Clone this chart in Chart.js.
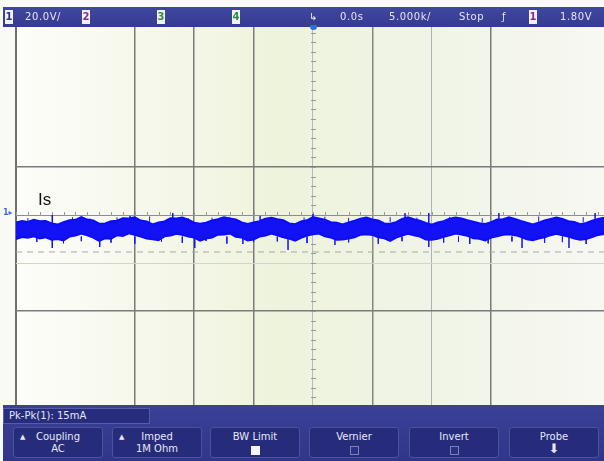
<!DOCTYPE html>
<html>
<head>
    <title>Scope capture - Is</title>
    <script src="https://cdn.jsdelivr.net/npm/chart.js@4.4.1/dist/chart.umd.min.js"></script>
    <style>
        body {
            margin: 0;
            padding: 0;
            background-color: #fafaf4;
            font-family: "DejaVu Sans", Arial, sans-serif;
        }
        #wrap {
            position: relative;
            width: 604px;
            height: 461px;
            overflow: hidden;
        }
        #scope {
            position: absolute;
            left: 0;
            top: 0;
        }
        .topbar {
            position: absolute;
            left: 3px;
            top: 7px;
            width: 601px;
            height: 20px;
            background: linear-gradient(#4047a0, #353b90);
            color: #e4e6f7;
            font-size: 10px;
            letter-spacing: 0.6px;
        }
        .topbar span {
            position: absolute;
            top: 4px;
            line-height: 12px;
        }
        .topbar .chip {
            background: #f2f2f6;
            width: 8px;
            text-align: center;
            font-weight: bold;
            letter-spacing: 0;
            top: 3px;
            line-height: 14px;
        }
        .bottombar {
            position: absolute;
            left: 3px;
            top: 405px;
            width: 601px;
            height: 56px;
            background: linear-gradient(#3a4196, #30378a);
            color: #e6e8f8;
            font-size: 10px;
        }
        .measure {
            position: absolute;
            left: 0;
            top: 3px;
            width: 147px;
            height: 16px;
            background: #272d7c;
            border: 1px solid #565da8;
            line-height: 14px;
            padding-left: 5px;
            box-sizing: border-box;
        }
        .btn {
            position: absolute;
            top: 22px;
            width: 90px;
            height: 31px;
            background: #272c7a;
            border: 1px solid #4a519e;
            border-radius: 3px;
            box-sizing: border-box;
            text-align: center;
            line-height: 12px;
            padding-top: 3px;
        }
        .btn .up {
            position: absolute;
            left: 6px;
            top: 3px;
            font-size: 7px;
        }
        .box {
            display: inline-block;
            width: 7px;
            height: 7px;
            margin-top: 3px;
            border: 1px solid #7c82b8;
            background: #2b3080;
        }
        .box.on {
            background: #f4f4fa;
            border-color: #f4f4fa;
        }
        .label-is {
            position: absolute;
            left: 38px;
            top: 190px;
            font-family: Arial, "Liberation Sans", sans-serif;
            font-size: 17px;
            color: #111;
        }
        .gnd {
            position: absolute;
            left: 3px;
            top: 208px;
            font-size: 8px;
            font-weight: bold;
            color: #3f6fc8;
        }
        .trig {
            position: absolute;
            left: 310px;
            top: 25px;
            width: 7px;
            height: 5px;
            border-radius: 0 0 4px 4px;
            background: #2d6fd2;
        }
    </style>
</head>
<body>
<div id="wrap">
    <canvas id="scope" width="604" height="461"></canvas>

    <div class="topbar">
        <span class="chip" style="left:2px;color:#2d3388;">1</span>
        <span style="left:22px;">20.0V/</span>
        <span class="chip" style="left:79px;color:#8b2a9a;">2</span>
        <span class="chip" style="left:154px;color:#2c8c3c;">3</span>
        <span class="chip" style="left:229px;color:#2c8c3c;">4</span>
        <span style="left:306px;color:#f0f0f0;">&#8627;</span>
        <span style="left:337px;">0.0s</span>
        <span style="left:386px;">5.000k/</span>
        <span style="left:456px;">Stop</span>
        <span style="left:499px;">&#402;</span>
        <span class="chip" style="left:526px;color:#8b2a9a;">1</span>
        <span style="left:557px;">1.80V</span>
    </div>

    <div class="trig"></div>
    <div class="gnd">1&#9656;</div>
    <div class="label-is">Is</div>

    <div class="bottombar">
        <div class="measure">Pk-Pk(1): 15mA</div>
        <div class="btn" style="left:10px;"><span class="up">&#9650;</span>Coupling<br>AC</div>
        <div class="btn" style="left:109px;"><span class="up">&#9650;</span>Imped<br>1M Ohm</div>
        <div class="btn" style="left:207px;">BW Limit<br><span class="box on"></span></div>
        <div class="btn" style="left:306px;">Vernier<br><span class="box"></span></div>
        <div class="btn" style="left:406px;">Invert<br><span class="box"></span></div>
        <div class="btn" style="left:506px;">Probe<br><span style="font-size:13px;">&#11015;</span></div>
    </div>
</div>

<script>
    // Channel 1 current trace, 20 mA/div, time axis in divisions
    const sampleStep = 0.1;
    const traceTop = [
        -3.1, -2.5, -2.9, -2.0, -2.6, -2.5, -3.5, -4.0, -3.0, -2.2,
        -2.0, -0.9, -1.9, -2.3, -3.6, -3.5, -2.6, -2.4, -1.4, -1.5,
        -1.0, -2.3, -2.7, -3.9, -3.1, -2.7, -1.4, -1.5, -1.1, -1.9,
        -3.2, -3.6, -3.2, -2.3, -1.8, -1.0, -1.5, -1.9, -3.1, -3.7,
        -3.1, -2.6, -1.5, -1.2, -1.8, -2.2, -3.5, -3.8, -2.7, -2.2,
        -0.9, -1.4, -2.0, -3.0, -3.2, -3.9, -3.1, -2.4, -1.6, -1.1,
        -1.9, -2.3, -3.5, -3.6, -3.0, -1.6, -1.0, -1.8, -2.4, -3.3,
        -4.0, -3.1, -2.6, -1.5, -1.0, -1.4, -2.2, -2.8, -3.4, -3.7,
        -3.0, -1.9, -1.8, -1.0, -1.7, -2.5, -3.2, -3.9, -3.2, -2.3,
        -1.7, -1.1, -1.6, -2.6, -2.9, -3.8, -3.3, -2.4, -1.7, -1.1,
        -1.3
    ];
    const traceBottom = [
        -10.0, -9.2, -9.5, -8.9, -9.8, -9.3, -10.3, -10.0, -10.6, -9.0,
        -8.6, -7.7, -8.5, -9.4, -10.8, -9.7, -9.9, -8.4, -8.7, -7.6,
        -8.2, -9.0, -9.8, -10.1, -10.5, -8.9, -8.6, -7.8, -8.2, -9.0,
        -9.4, -10.7, -9.8, -9.4, -8.2, -8.1, -7.7, -9.1, -9.4, -10.6,
        -10.2, -9.0, -8.6, -7.7, -8.5, -9.3, -9.8, -10.7, -9.5, -8.6,
        -8.0, -7.7, -8.9, -9.4, -10.3, -10.2, -9.8, -9.3, -8.2, -8.0,
        -8.3, -9.3, -9.7, -10.8, -9.4, -8.6, -7.8, -8.4, -9.0, -10.2,
        -10.3, -9.9, -9.1, -8.5, -7.7, -8.1, -8.7, -9.7, -9.9, -10.6,
        -9.4, -8.9, -8.2, -8.0, -8.4, -9.1, -10.1, -10.5, -9.8, -9.3,
        -8.4, -7.8, -8.5, -9.0, -9.8, -10.3, -10.0, -9.2, -8.3, -7.9,
        -8.0
    ];

    // Noise spikes reaching well out of the band
    const spikeX    = [0.61, 1.41, 3.01, 3.82, 4.58, 5.37, 6.95, 7.64, 8.52, 9.31,
                       0.61, 1.92, 2.64, 4.11, 5.00, 6.55, 6.95, 8.13, 9.75];
    const spikeFrom = [-7, -7, -7, -7, -7, -7, -7, -7, -7, -7,
                       -4, -4, -4, -4, -4, -4, -4, -4, -4];
    const spikeTo   = [-13.8, -13.3, -13.8, -12.1, -14.6, -12.5, -13.3, -12.1, -13.8, -13.8,
                       0.0, -0.4, 0.8, -0.4, 0.4, 0.8, 0.8, 0.8, 0.8];

    // Short hairs on the band edges
    const hairX    = [0.20, 0.95, 1.25, 1.70, 2.25, 2.90, 3.30, 3.60, 4.35, 4.85, 5.20,
                      5.60, 5.95, 6.30, 6.75, 7.30, 7.85, 8.30, 8.80, 9.10, 9.55,
                      0.35, 0.80, 1.10, 1.60, 2.00, 2.45, 2.80, 3.20, 3.55, 4.00, 4.40,
                      4.90, 5.60, 6.10, 6.50, 7.20, 7.45, 7.95, 8.35, 8.90, 9.20, 9.60];
    const hairFrom = [-3, -3, -3, -3, -3, -3, -3, -3, -3, -3, -3,
                      -3, -3, -3, -3, -3, -3, -3, -3, -3, -3,
                      -9, -9, -9, -9, -9, -9, -9, -9, -9, -9, -9,
                      -9, -9, -9, -9, -9, -9, -9, -9, -9, -9, -9];
    const hairTo   = [-1.2, -0.9, -1.5, -1.0, -0.6, -1.3, -1.1, -0.8, -1.4, -1.0, -0.7,
                      -1.2, -1.5, -0.9, -1.1, -0.8, -1.3, -1.0, -0.6, -1.2, -0.9,
                      -11.2, -11.8, -10.9, -11.5, -12.0, -11.1, -11.6, -10.8, -11.9, -11.3, -11.0,
                      -11.7, -11.4, -12.0, -10.9, -11.5, -11.2, -11.8, -11.0, -11.6, -11.3, -12.1];

    const cursorLevel = -15.4;      // dashed marker line (mA)
    const xDivs = [0, 9.9];         // visible screen width in divisions
    const yRange = [-80, 80];       // 8 div x 20 mA

    const topPoints = traceTop.map((v, i) => ({ x: i * sampleStep, y: v }));
    const bottomPoints = traceBottom.map((v, i) => ({ x: i * sampleStep, y: v }));

    function segments(xs, from, to) {
        const pts = [];
        xs.forEach((x, i) => {
            pts.push({ x: x, y: from[i] });
            pts.push({ x: x, y: to[i] });
            pts.push({ x: x, y: null });
        });
        return pts;
    }

    // grid look per division line
    function xGrid(v) {
        if (v === 0) return ['#6f6f6f', 2];
        if (v === 2 || v === 3 || v === 4 || v === 8) return ['#7b7b7b', 1.5];
        if (v === 5) return ['#b8b8b8', 1];
        if (v === 6) return ['#858585', 1.5];
        if (v === 7) return ['#b0b0b0', 1];
        return ['rgba(0,0,0,0)', 0];
    }
    function yGrid(v) {
        if (v === 20 || v === -40) return ['#7b7b7b', 1.5];
        if (v === 0) return ['#8c8c8c', 1];
        if (v === -20) return ['#d2d6c8', 1];
        return ['rgba(0,0,0,0)', 0];
    }

    const screenPlugin = {
        id: 'screen',
        beforeDraw(chart) {
            const a = chart.chartArea;
            const c = chart.ctx;
            const g = c.createLinearGradient(a.left, 0, a.right, 0);
            g.addColorStop(0, '#fdfdf9');
            g.addColorStop(0.18, '#f7f9ee');
            g.addColorStop(0.45, '#eef3dc');
            g.addColorStop(0.7, '#f0f4e6');
            g.addColorStop(1, '#f7f8f2');
            c.save();
            c.fillStyle = g;
            c.fillRect(a.left, a.top, a.right - a.left, a.bottom - a.top);
            c.restore();
        },
        beforeDatasetsDraw(chart) {
            // minor ticks along the two centre axes
            const c = chart.ctx;
            const xs = chart.scales.x;
            const ys = chart.scales.y;
            const cx = xs.getPixelForValue(5);
            const cy = ys.getPixelForValue(0);
            c.save();
            c.strokeStyle = '#9a9a9a';
            c.lineWidth = 1;
            c.beginPath();
            for (let v = yRange[0]; v <= yRange[1]; v += 4) {
                const py = Math.round(ys.getPixelForValue(v)) + 0.5;
                c.moveTo(cx - 2, py);
                c.lineTo(cx + 3, py);
            }
            for (let d = 0; d <= xDivs[1]; d += 0.2) {
                const px = Math.round(xs.getPixelForValue(d)) + 0.5;
                c.moveTo(px, cy - 3);
                c.lineTo(px, cy + 1);
            }
            c.stroke();
            c.restore();
        }
    };

    const ctx = document.getElementById('scope').getContext('2d');
    const scopeChart = new Chart(ctx, {
        type: 'line',
        data: {
            datasets: [
                {
                    label: 'cursor',
                    data: [{ x: xDivs[0], y: cursorLevel }, { x: xDivs[1], y: cursorLevel }],
                    borderColor: '#a9aaa6',
                    borderWidth: 1,
                    borderDash: [6, 5],
                    pointRadius: 0,
                    fill: false
                },
                {
                    label: 'Is top',
                    data: topPoints,
                    borderColor: '#0b0bff',
                    borderWidth: 2,
                    pointRadius: 0,
                    tension: 0,
                    fill: false
                },
                {
                    label: 'Is bottom',
                    data: bottomPoints,
                    borderColor: '#0b0bff',
                    backgroundColor: '#1212f5',
                    borderWidth: 2,
                    pointRadius: 0,
                    tension: 0,
                    fill: '-1'
                },
                {
                    label: 'hairs',
                    data: segments(hairX, hairFrom, hairTo),
                    borderColor: '#1a1af0',
                    borderWidth: 1,
                    pointRadius: 0,
                    spanGaps: false,
                    fill: false
                },
                {
                    label: 'spikes',
                    data: segments(spikeX, spikeFrom, spikeTo),
                    borderColor: '#1414e8',
                    borderWidth: 1.5,
                    pointRadius: 0,
                    spanGaps: false,
                    fill: false
                }
            ]
        },
        options: {
            responsive: false,
            animation: false,
            layout: {
                padding: { left: 16, top: 23, right: 0, bottom: 54 }
            },
            plugins: {
                legend: { display: false },
                tooltip: { enabled: false }
            },
            scales: {
                x: {
                    type: 'linear',
                    min: xDivs[0],
                    max: xDivs[1],
                    ticks: { display: false, stepSize: 1 },
                    border: { display: false },
                    grid: {
                        drawTicks: false,
                        color: (c) => xGrid(c.tick.value)[0],
                        lineWidth: (c) => xGrid(c.tick.value)[1]
                    }
                },
                y: {
                    type: 'linear',
                    min: yRange[0],
                    max: yRange[1],
                    ticks: { display: false, stepSize: 20 },
                    border: { display: false },
                    grid: {
                        drawTicks: false,
                        color: (c) => yGrid(c.tick.value)[0],
                        lineWidth: (c) => yGrid(c.tick.value)[1]
                    }
                }
            }
        },
        plugins: [screenPlugin]
    });
</script>
</body>
</html>
